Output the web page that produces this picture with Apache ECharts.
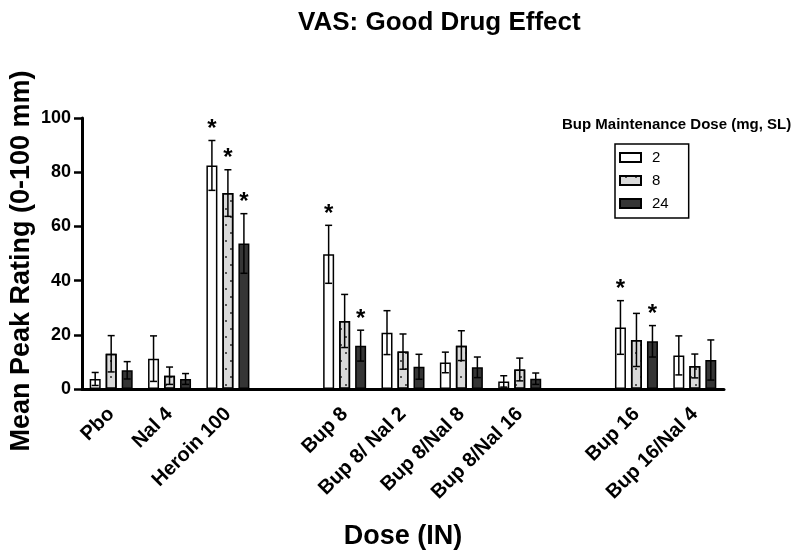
<!DOCTYPE html>
<html>
<head>
<meta charset="utf-8">
<script src="https://cdn.jsdelivr.net/npm/echarts@6/dist/echarts.min.js"></script>
<style>html,body{margin:0;padding:0;background:#fff}#c{width:800px;height:559px}</style>
</head>
<body>
<div id="c"></div>
<script>
// categories ('' = empty spacer slot, no tick / label)
var categories = ['Pbo', 'Nal 4', 'Heroin 100', '', 'Bup 8', 'Bup 8/ Nal 2', 'Bup 8/Nal 8', 'Bup 8/Nal 16', '', 'Bup 16', 'Bup 16/Nal 4'];
var seriesNames = ['2', '8', '24'];
var dose2Mean  = [3.7, 11.2, 82.5, null, 49.7, 20.8, 9.8, 2.8, null, 22.7, 12.4];
var dose2Err   = [2.4, 8.4, 9.2, null, 10.7, 8.1, 3.8, 2.1, null, 9.9, 7.2];
var dose2Sig   = [0, 0, 1, 0, 1, 0, 0, 0, 0, 1, 0];
var dose8Mean  = [13.0, 4.9, 72.3, null, 25.1, 13.8, 16.0, 7.2, null, 18.1, 8.5];
var dose8Err   = [6.7, 3.2, 8.6, null, 9.8, 6.5, 5.5, 4.2, null, 9.8, 4.4];
var dose8Sig   = [0, 0, 1, 0, 0, 0, 0, 0, 0, 0, 0];
var dose24Mean = [6.9, 3.7, 53.7, null, 16.0, 8.2, 8.0, 3.8, null, 17.6, 10.7];
var dose24Err  = [3.2, 2.0, 11.0, null, 5.7, 4.6, 3.8, 2.1, null, 5.8, 7.4];
var dose24Sig  = [0, 0, 1, 0, 1, 0, 0, 0, 0, 1, 0];
var yTicks = [0, 20, 40, 60, 80, 100];

var means = [dose2Mean, dose8Mean, dose24Mean];
var errs = [dose2Err, dose8Err, dose24Err];
var sigs = [dose2Sig, dose8Sig, dose24Sig];

var FONT = "'Liberation Sans', Arial, sans-serif";
var BAR_W = 11, BAR_GAP = 5;
var barStyles = [
  {color: '#ffffff', borderColor: '#000', borderWidth: 1.5},
  {color: '#d9d9d9', borderColor: '#000', borderWidth: 1.5,
   decal: {symbol: 'rect', symbolSize: 1, color: 'rgba(40,40,40,0.75)',
           dashArrayX: [[1.5, 8], [0, 5, 1.5, 3]], dashArrayY: [1.5, 5.5], rotation: 0}},
  {color: '#353535', borderColor: '#000', borderWidth: 1.5}
];

var chart = echarts.init(document.getElementById('c'), null, {renderer: 'canvas'});

var series = [];
seriesNames.forEach(function (name, si) {
  series.push({
    name: name, type: 'bar', data: means[si], barWidth: BAR_W,
    barGap: (BAR_GAP / BAR_W * 100) + '%', itemStyle: barStyles[si], z: 2
  });
});
seriesNames.forEach(function (name, si) {
  var d = [];
  for (var i = 0; i < categories.length; i++) {
    if (means[si][i] != null) d.push([i, means[si][i], errs[si][i], sigs[si][i]]);
  }
  series.push({
    type: 'custom', name: 'err' + name, data: d, z: 5, silent: true,
    encode: {x: 0, y: 1},
    renderItem: (function (k) {
      return function (params, api) {
        var ci = api.value(0), m = api.value(1), e = api.value(2), s = api.value(3);
        var c = api.coord([ci, m]);
        var t = api.coord([ci, m + e]);
        var b = api.coord([ci, Math.max(0, m - e)]);
        var x = c[0] + (k - 1) * (BAR_W + BAR_GAP);
        var cap = 3.5;
        var st = {stroke: '#000', lineWidth: 1.5};
        var children = [
          {type: 'line', shape: {x1: x, y1: t[1], x2: x, y2: b[1]}, style: st},
          {type: 'line', shape: {x1: x - cap, y1: t[1], x2: x + cap, y2: t[1]}, style: st},
          {type: 'line', shape: {x1: x - cap, y1: b[1], x2: x + cap, y2: b[1]}, style: st}
        ];
        if (s) {
          children.push({type: 'text', style: {text: '*', x: x, y: t[1] + 1, textAlign: 'center',
            textVerticalAlign: 'bottom', font: 'bold 24px ' + FONT, fill: '#000'}});
        }
        return {type: 'group', children: children};
      };
    })(si)
  });
});

chart.setOption({
  animation: false,
  backgroundColor: '#fff',
  title: [
    {text: 'VAS: Good Drug Effect', left: 293, top: 5,
     textStyle: {fontFamily: FONT, fontWeight: 'bold', fontSize: 26, color: '#000'}},
    {text: 'Bup Maintenance Dose (mg, SL)', left: 557, top: 112,
     textStyle: {fontFamily: FONT, fontWeight: 'bold', fontSize: 15, color: '#000'}}
  ],
  graphic: [
    {type: 'text', x: 22, y: 261, rotation: Math.PI / 2,
     style: {text: 'Mean Peak Rating (0-100 mm)', textAlign: 'center', textVerticalAlign: 'middle',
       font: 'bold 27px ' + FONT, fill: '#000'}}
  ],
  legend: {
    data: seriesNames, orient: 'vertical', left: 615, top: 144,
    itemWidth: 21, itemHeight: 9, itemGap: 8, padding: [6, 20, 7, 4],
    borderColor: '#000', borderWidth: 1.5, icon: 'rect',
    textStyle: {fontFamily: FONT, fontSize: 15, color: '#000', padding: [0, 0, 0, 6]}
  },
  grid: {left: 82, right: 76, top: 118, bottom: 170, containLabel: false},
  xAxis: {
    type: 'category', data: categories,
    name: 'Dose (IN)', nameLocation: 'middle', nameGap: 134,
    nameTextStyle: {fontFamily: FONT, fontWeight: 'bold', fontSize: 27, color: '#000'},
    axisLine: {lineStyle: {color: '#000', width: 3}},
    axisTick: {alignWithLabel: true, length: 7, lineStyle: {color: '#000', width: 2.5},
      interval: function (idx, val) { return val !== ''; }},
    axisLabel: {rotate: 45, margin: 22, interval: 0, fontFamily: FONT, fontWeight: 'bold',
      fontSize: 20, color: '#000'}
  },
  yAxis: {
    type: 'value', min: yTicks[0], max: yTicks[yTicks.length - 1], interval: yTicks[1] - yTicks[0],
    axisLine: {show: true, lineStyle: {color: '#000', width: 3}},
    axisTick: {show: true, length: 8, lineStyle: {color: '#000', width: 2.5}},
    axisLabel: {margin: 11, fontFamily: FONT, fontWeight: 'bold', fontSize: 18, color: '#000'},
    splitLine: {show: false}
  },
  series: series
});
</script>
</body>
</html>
